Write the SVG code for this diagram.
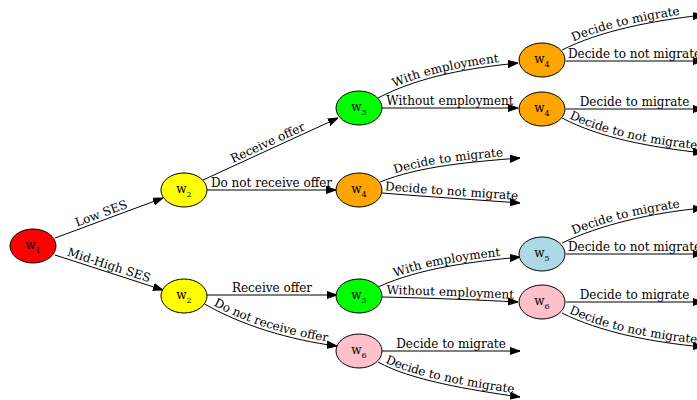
<svg xmlns="http://www.w3.org/2000/svg" width="697" height="400" viewBox="0 0 697 400">
<defs>
<marker id="ah" markerWidth="10" markerHeight="8" refX="10" refY="4" orient="auto" markerUnits="userSpaceOnUse">
<path d="M0,0.5 L10,4 L0,7.5 Z" fill="#000" stroke="#000" stroke-width="1"/>
</marker>
<style>
.e{fill:none;stroke:#000;stroke-width:1;marker-end:url(#ah)}
.l{font-family:"DejaVu Serif",serif;font-size:12px;fill:#000}
.n ellipse{stroke:#000;stroke-width:1}
.n text{font-family:"DejaVu Serif",serif;font-size:12px;fill:#000;text-anchor:middle}
.n tspan{font-size:8px}
</style>
</defs>
<rect width="697" height="400" fill="#fff"/>
<g id="connectors">
<path id="e1" class="e" d="M55,238 L163,198"/>
<path id="e2" class="e" d="M55,255 L163,290"/>
<path id="e3" class="e" d="M203,180 L338,118"/>
<path id="e4" class="e" d="M207,190 L336,190"/>
<path id="e5" class="e" d="M207,295 L337,295"/>
<path id="e6" class="e" d="M203,303 C240,325 290,340 337,346"/>
<path id="e7" class="e" d="M378,98 C420,76 470,68 518,63"/>
<path id="e8" class="e" d="M382,108 L518,108"/>
<path id="e9" class="e" d="M380,182 C420,166 470,162 520,158"/>
<path id="e10" class="e" d="M382,193 C430,197 480,200 520,203"/>
<path id="e11" class="e" d="M378,287 C420,268 470,262 520,257"/>
<path id="e12" class="e" d="M382,297 C430,298 480,300 518,302"/>
<path id="e13" class="e" d="M382,351 L520,351"/>
<path id="e14" class="e" d="M378,362 C410,380 470,390 520,397"/>
<path id="e15" class="e" d="M562,50 C600,31 650,21 703,15"/>
<path id="e16" class="e" d="M566,61 L703,61"/>
<path id="e17" class="e" d="M566,109 L703,109"/>
<path id="e18" class="e" d="M562,118 C600,138 650,147 703,153"/>
<path id="e19" class="e" d="M562,243 C600,225 650,213 703,208"/>
<path id="e20" class="e" d="M566,254 L703,254"/>
<path id="e21" class="e" d="M566,302 L703,302"/>
<path id="e22" class="e" d="M562,313 C600,332 650,342 703,347"/>
<text class="l" dy="-3"><textPath href="#e1" startOffset="45%" text-anchor="middle">Low SES</textPath></text>
<text class="l" dy="-3"><textPath href="#e2" startOffset="48%" text-anchor="middle">Mid-High SES</textPath></text>
<text class="l" dy="-3"><textPath href="#e3" startOffset="50%" text-anchor="middle">Receive offer</textPath></text>
<text class="l" dy="-3"><textPath href="#e4" startOffset="50%" text-anchor="middle">Do not receive offer</textPath></text>
<text class="l" dy="-3"><textPath href="#e5" startOffset="50%" text-anchor="middle">Receive offer</textPath></text>
<text class="l" dy="-3"><textPath href="#e6" startOffset="50%" text-anchor="middle">Do not receive offer</textPath></text>
<text class="l" dy="-3"><textPath href="#e7" startOffset="50%" text-anchor="middle">With employment</textPath></text>
<text class="l" dy="-3"><textPath href="#e8" startOffset="50%" text-anchor="middle">Without employment</textPath></text>
<text class="l" dy="-3"><textPath href="#e9" startOffset="50%" text-anchor="middle">Decide to migrate</textPath></text>
<text class="l" dy="-3"><textPath href="#e10" startOffset="50%" text-anchor="middle">Decide to not migrate</textPath></text>
<text class="l" dy="-3"><textPath href="#e11" startOffset="50%" text-anchor="middle">With employment</textPath></text>
<text class="l" dy="-3"><textPath href="#e12" startOffset="50%" text-anchor="middle">Without employment</textPath></text>
<text class="l" dy="-3"><textPath href="#e13" startOffset="50%" text-anchor="middle">Decide to migrate</textPath></text>
<text class="l" dy="-3"><textPath href="#e14" startOffset="50%" text-anchor="middle">Decide to not migrate</textPath></text>
<text class="l" dy="-3"><textPath href="#e15" startOffset="47%" text-anchor="middle">Decide to migrate</textPath></text>
<text class="l" dy="-3"><textPath href="#e16" startOffset="50%" text-anchor="middle">Decide to not migrate</textPath></text>
<text class="l" dy="-3"><textPath href="#e17" startOffset="50%" text-anchor="middle">Decide to migrate</textPath></text>
<text class="l" dy="-3"><textPath href="#e18" startOffset="50%" text-anchor="middle">Decide to not migrate</textPath></text>
<text class="l" dy="-3"><textPath href="#e19" startOffset="47%" text-anchor="middle">Decide to migrate</textPath></text>
<text class="l" dy="-3"><textPath href="#e20" startOffset="50%" text-anchor="middle">Decide to not migrate</textPath></text>
<text class="l" dy="-3"><textPath href="#e21" startOffset="50%" text-anchor="middle">Decide to migrate</textPath></text>
<text class="l" dy="-3"><textPath href="#e22" startOffset="50%" text-anchor="middle">Decide to not migrate</textPath></text>
</g>
<g id="w1" class="n"><ellipse cx="33" cy="246" rx="23" ry="17" fill="#ff0000"/><text x="33" y="249">w<tspan dy="4">1</tspan></text></g>
<g id="w2a" class="n"><ellipse cx="184" cy="190" rx="23" ry="17" fill="#ffff00"/><text x="184" y="193">w<tspan dy="4">2</tspan></text></g>
<g id="w2b" class="n"><ellipse cx="184" cy="296" rx="23" ry="17" fill="#ffff00"/><text x="184" y="299">w<tspan dy="4">2</tspan></text></g>
<g id="w3a" class="n"><ellipse cx="359" cy="108" rx="23" ry="17" fill="#00ff00"/><text x="359" y="111">w<tspan dy="4">3</tspan></text></g>
<g id="w4a" class="n"><ellipse cx="359" cy="190" rx="23" ry="17" fill="#ffa500"/><text x="359" y="193">w<tspan dy="4">4</tspan></text></g>
<g id="w3b" class="n"><ellipse cx="359" cy="296" rx="23" ry="17" fill="#00ff00"/><text x="359" y="299">w<tspan dy="4">3</tspan></text></g>
<g id="w6a" class="n"><ellipse cx="359" cy="351" rx="23" ry="17" fill="#ffc0cb"/><text x="359" y="354">w<tspan dy="4">6</tspan></text></g>
<g id="w4b" class="n"><ellipse cx="542" cy="60" rx="23" ry="17" fill="#ffa500"/><text x="542" y="63">w<tspan dy="4">4</tspan></text></g>
<g id="w4c" class="n"><ellipse cx="542" cy="109" rx="23" ry="17" fill="#ffa500"/><text x="542" y="112">w<tspan dy="4">4</tspan></text></g>
<g id="w5" class="n"><ellipse cx="542" cy="254" rx="23" ry="17" fill="#add8e6"/><text x="542" y="257">w<tspan dy="4">5</tspan></text></g>
<g id="w6b" class="n"><ellipse cx="542" cy="302" rx="23" ry="17" fill="#ffc0cb"/><text x="542" y="305">w<tspan dy="4">6</tspan></text></g>
</svg>
